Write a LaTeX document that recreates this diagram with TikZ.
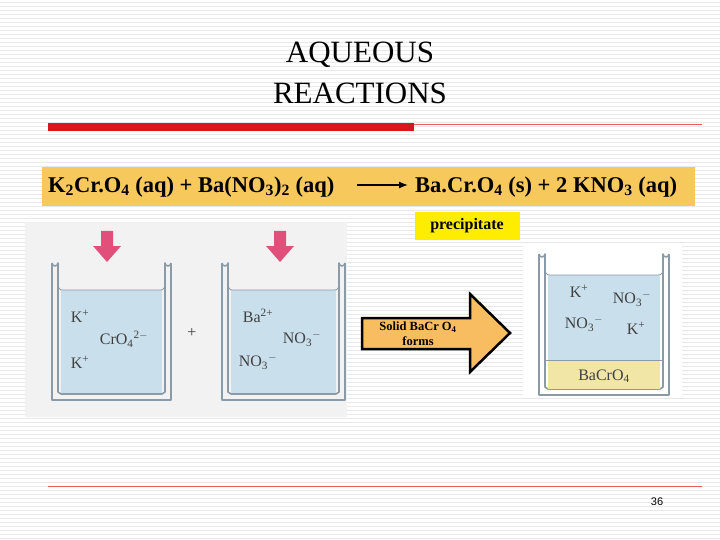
\documentclass[tikz,border=0pt]{standalone}
\usepackage{fontspec}
\usetikzlibrary{arrows.meta}
\setmainfont{Liberation Serif}
\newfontfamily\sansf{Liberation Sans}
\definecolor{water}{HTML}{C9E0EC}
\definecolor{glass}{HTML}{8A9AA6}
\definecolor{pinkarr}{HTML}{E0507A}
\definecolor{gold}{HTML}{F7C95C}
\definecolor{arrfill}{HTML}{F8BD60}
\definecolor{redbar}{HTML}{D9141E}
\definecolor{precipcol}{HTML}{F2E6A6}
\tikzset{
 ion/.style={font=\fontsize{16}{16}\selectfont, text=black!75},
 bk/.style={draw=glass, line width=1.6pt, line join=round},
}
\newcommand{\beaker}[6]{% x1 x2 ytop ybot ywater name
 \fill[water] (#1+5,#5) -- (#2-5,#5) -- (#2-5,#4-6) -- (#1+5,#4-6) -- cycle;
 \draw[bk] (#1-4,#3) arc (180:0:3) -- (#1+2,#4-8) -- (#1+5,#4-6) -- (#2-5,#4-6) -- (#2-2,#4-8) -- (#2-2,#3) arc (180:0:3);
 \draw[bk] (#1-4,#3) -- (#1-4,#4) -- (#2+4,#4) -- (#2+4,#3);
 \draw[glass, line width=0.8pt] (#1+2,#5-3) .. controls (#1+4,#5) .. (#1+10,#5) -- (#2-10,#5) .. controls (#2-4,#5) .. (#2-2,#5-3);
 \coordinate (#6) at ({(#1+#2)/2},#3);
}
\begin{document}
\begin{tikzpicture}[x=1pt,y=-1pt]
\useasboundingbox (0,0) rectangle (720,540);
\fill[white] (0,0) rectangle (720,540);
\foreach \y in {2,6,...,538} \draw[black!9, line width=0.6pt] (0,\y) -- (720,\y);
% title
\node[font=\fontsize{31}{41}\selectfont, align=center] (title) at (360,73) {AQUEOUS\\REACTIONS};
\fill[redbar] (48,123) rectangle (414,131);
\draw[redbar!70, line width=0.8pt] (414,124) -- (702,124);
% equation
\fill[gold] (42,167) rectangle (695,206);
\node[font=\bfseries\fontsize{22.5}{22.5}\selectfont, anchor=west, inner sep=0pt] (lhs) at (48,187) {K\textsubscript{2}Cr.O\textsubscript{4} (aq) + Ba(NO\textsubscript{3})\textsubscript{2} (aq)};
\node[font=\bfseries\fontsize{22.5}{22.5}\selectfont, anchor=west, inner sep=0pt] (rhs) at (415,187) {Ba.Cr.O\textsubscript{4} (s) + 2 KNO\textsubscript{3} (aq)};
\coordinate (ea) at (357,185);
\coordinate (eb) at (408,185);
\draw[-{Latex[length=9pt,width=7pt]}, line width=1.3pt] (ea) -- (eb);
\fill[yellow!95!orange] (415,212) rectangle (520,240);
\node[font=\bfseries\fontsize{16}{16}\selectfont] (prec) at (467,226) {precipitate};
% left image
\fill[black!5] (25,222) rectangle (347,417);
\beaker{56}{167}{263}{400}{290}{b1}
\beaker{226}{341}{263}{400}{290}{b2}
\fill[pinkarr] (101,231) -- (113,231) -- (113,246) -- (121,246) -- (107,262) -- (93,246) -- (101,246) -- cycle;
\fill[pinkarr] (274,231) -- (286,231) -- (286,246) -- (294,246) -- (280,262) -- (266,246) -- (274,246) -- cycle;
\node[ion] (k1) at (80,316) {K\textsuperscript{+}};
\node[ion] (cr) at (124,339) {CrO\textsubscript{4}\textsuperscript{2$-$}};
\node[ion] (k2) at (80,362) {K\textsuperscript{+}};
\node[ion] (plus) at (192,333) {+};
\node[ion] (ba) at (258,316) {Ba\textsuperscript{2+}};
\node[ion] (n1) at (302,339) {NO\textsubscript{3}\textsuperscript{$-$}};
\node[ion] (n2) at (258,362) {NO\textsubscript{3}\textsuperscript{$-$}};
% big arrow
\draw[fill=arrfill, line width=2.5pt, line join=miter] (362,318) -- (470,318) -- (470,294) -- (510,333) -- (470,372) -- (470,349) -- (362,349) -- cycle;
\node[font=\bfseries\fontsize{12.5}{15}\selectfont, align=center] (solidtxt) at (418,334) {Solid BaCr O\textsubscript{4}\\forms};
% right image
\fill[white] (523,245) rectangle (682,398);
\beaker{543}{665}{254}{395}{275}{b3}
\fill[precipcol] (548,360) rectangle (660,389);
\draw[glass, line width=0.6pt] (545,360) -- (663,360);
\node[ion] (rk1) at (579,291) {K\textsuperscript{+}};
\node[ion] (rn1) at (632,299) {NO\textsubscript{3}\textsuperscript{$-$}};
\node[ion] (rn2) at (584,324) {NO\textsubscript{3}\textsuperscript{$-$}};
\node[ion] (rk2) at (636,328) {K\textsuperscript{+}};
\node[ion] (rs) at (604,376) {BaCrO\textsubscript{4}};
% footer
\draw[redbar!70, line width=0.8pt] (48,486) -- (702,486);
\node[font=\sansf\fontsize{11}{11}\selectfont] (pg) at (657,502) {36};
\end{tikzpicture}
\end{document}
